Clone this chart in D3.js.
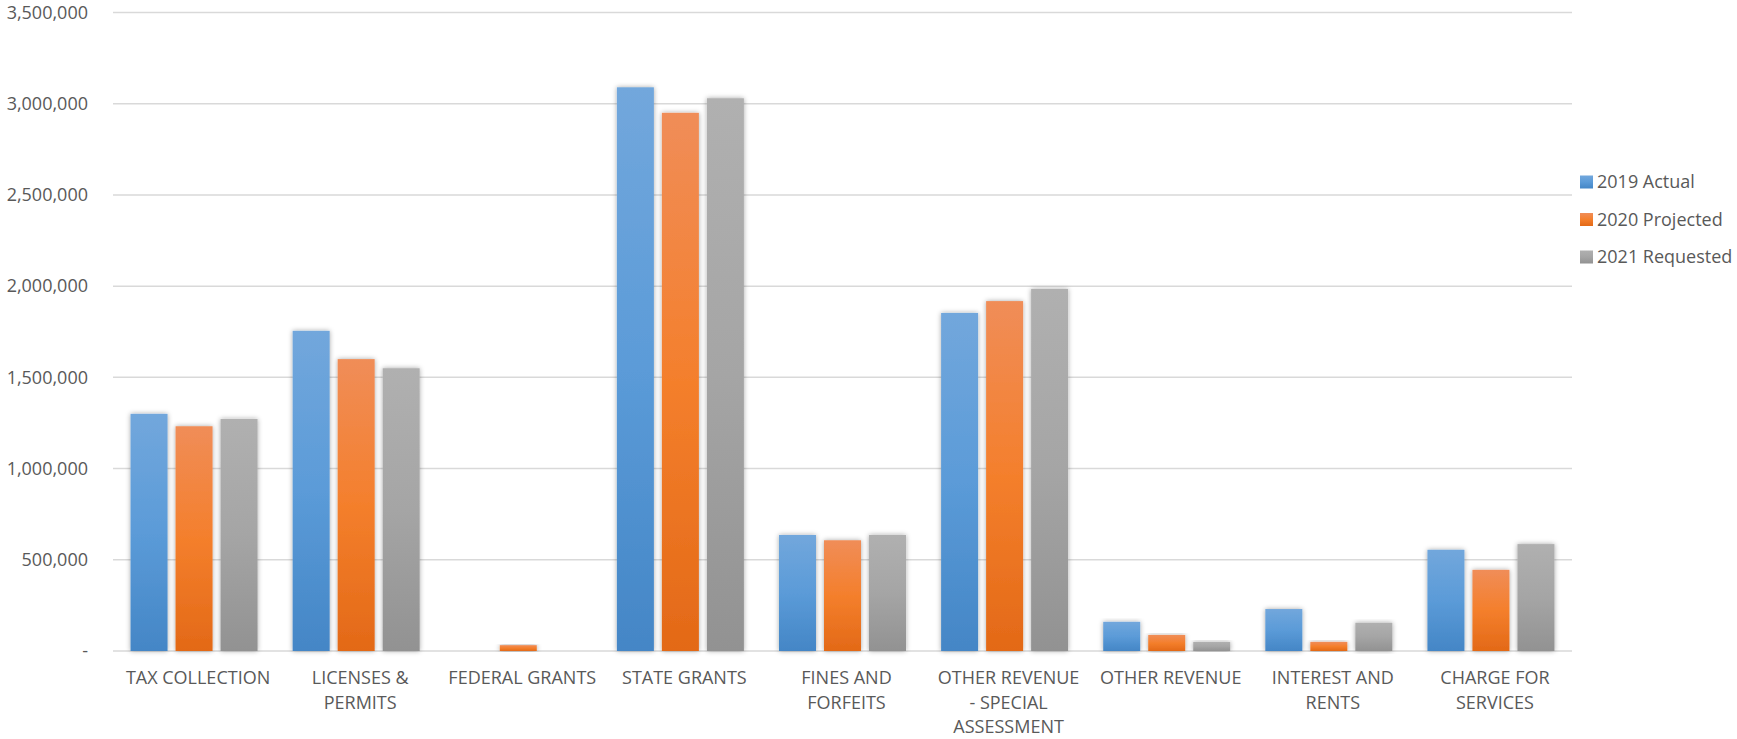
<!DOCTYPE html>
<meta charset="utf-8">
<style>
    body {
        margin: 0;
        background: #fff;
    }

    text {
        font-family: "Open Sans", sans-serif;
        fill: #595959;
    }

    .grid line {
        stroke: #d9d9d9;
        stroke-width: 1.5;
    }
</style>

<body>
    <script src="https://d3js.org/d3.v7.min.js"></script>
    <script>
        // chart data
        var categories = ["TAX COLLECTION", "LICENSES & PERMITS", "FEDERAL GRANTS", "STATE GRANTS",
            "FINES AND FORFEITS", "OTHER REVENUE - SPECIAL ASSESSMENT", "OTHER REVENUE",
            "INTEREST AND RENTS", "CHARGE FOR SERVICES"];
        var categoryLines = [
            ["TAX COLLECTION"],
            ["LICENSES &", "PERMITS"],
            ["FEDERAL GRANTS"],
            ["STATE GRANTS"],
            ["FINES AND", "FORFEITS"],
            ["OTHER REVENUE", "- SPECIAL", "ASSESSMENT"],
            ["OTHER REVENUE"],
            ["INTEREST AND", "RENTS"],
            ["CHARGE FOR", "SERVICES"]
        ];
        var seriesNames = ["2019 Actual", "2020 Projected", "2021 Requested"];
        var actual2019 = [1300000, 1755000, 0, 3090000, 636000, 1853000, 160000, 230000, 555000];
        var projected2020 = [1232000, 1600000, 32000, 2950000, 607000, 1918000, 88000, 50000, 445000];
        var requested2021 = [1272000, 1550000, 0, 3030000, 636000, 1985000, 50000, 155000, 586000];
        var yTicks = [0, 500000, 1000000, 1500000, 2000000, 2500000, 3000000, 3500000];

        var seriesValues = [actual2019, projected2020, requested2021];

        var width = 1737,
            height = 739;
        var plot = {
            left: 113,
            right: 1572,
            top: 12.5,
            bottom: 651
        };

        var x0 = d3.scaleBand()
            .domain(categories)
            .range([plot.left, plot.right])
            .padding(0);
        var x1 = d3.scaleBand()
            .domain(seriesNames)
            .range([0, x0.bandwidth()])
            .paddingInner(0.178)
            .paddingOuter(0.39);
        var y = d3.scaleLinear()
            .domain([0, 3500000])
            .range([plot.bottom, plot.top]);

        // gradient colours (top, middle, bottom)
        var gradStops = [
            ["#72a7dc", "#5b9bd8", "#4486c6"],
            ["#f08d58", "#f47f2c", "#e36917"],
            ["#b0b0b0", "#a5a5a5", "#929292"]
        ];
        var legendColor = ["#5b9bd5", "#ed7d31", "#a5a5a5"];

        var svg = d3.select("body").append("svg")
            .attr("width", width)
            .attr("height", height);

        var defs = svg.append("defs");
        gradStops.forEach(function(s, i) {
            var g = defs.append("linearGradient")
                .attr("id", "grad" + i)
                .attr("x1", 0).attr("y1", 0)
                .attr("x2", 0).attr("y2", 1);
            g.append("stop").attr("offset", "0%").attr("stop-color", s[0]);
            g.append("stop").attr("offset", "50%").attr("stop-color", s[1]);
            g.append("stop").attr("offset", "100%").attr("stop-color", s[2]);
        });
        var shadow = defs.append("filter")
            .attr("id", "shadow")
            .attr("x", "-30%").attr("y", "-10%")
            .attr("width", "160%").attr("height", "120%");
        shadow.append("feDropShadow")
            .attr("dx", 0)
            .attr("dy", 0)
            .attr("stdDeviation", 2.5)
            .attr("flood-color", "#000")
            .attr("flood-opacity", 0.35);

        // gridlines
        svg.append("g")
            .attr("class", "grid")
            .selectAll("line")
            .data(yTicks)
            .enter().append("line")
            .attr("x1", plot.left)
            .attr("x2", plot.right)
            .attr("y1", function(d) { return y(d); })
            .attr("y2", function(d) { return y(d); });

        // y labels
        var fmt = d3.format(",");
        svg.append("g")
            .selectAll("text")
            .data(yTicks)
            .enter().append("text")
            .attr("x", 88)
            .attr("y", function(d) { return y(d); })
            .attr("dy", "0.35em")
            .attr("text-anchor", "end")
            .style("font-size", "18px")
            .text(function(d) { return d === 0 ? "-" : fmt(d); });

        // bars
        var groups = svg.append("g")
            .selectAll("g")
            .data(categories)
            .enter().append("g")
            .attr("transform", function(d) { return "translate(" + x0(d) + ",0)"; });

        groups.selectAll("rect")
            .data(function(d, ci) {
                return seriesNames.map(function(s, si) {
                    return { series: s, si: si, value: seriesValues[si][ci] };
                });
            })
            .enter().append("rect")
            .filter(function(d) { return d.value > 0; })
            .attr("x", function(d) { return x1(d.series); })
            .attr("y", function(d) { return y(d.value); })
            .attr("width", x1.bandwidth())
            .attr("height", function(d) { return y(0) - y(d.value); })
            .style("fill", function(d) { return "url(#grad" + d.si + ")"; })
            .attr("filter", "url(#shadow)");

        // x labels
        var xl = svg.append("g")
            .selectAll("text")
            .data(categories)
            .enter().append("text")
            .attr("x", function(d) { return x0(d) + x0.bandwidth() / 2 + 4; })
            .attr("y", 684)
            .attr("text-anchor", "middle")
            .style("font-size", "18px");
        xl.each(function(d, i) {
            var t = d3.select(this);
            categoryLines[i].forEach(function(line, j) {
                t.append("tspan")
                    .attr("x", x0(d) + x0.bandwidth() / 2 + 4)
                    .attr("dy", j === 0 ? 0 : 24.5)
                    .text(line);
            });
        });

        // legend
        var legend = svg.append("g")
            .selectAll("g")
            .data(seriesNames)
            .enter().append("g")
            .attr("transform", function(d, i) {
                return "translate(1580," + (182 + i * 37.5) + ")";
            });
        legend.append("rect")
            .attr("y", -6.5)
            .attr("width", 13)
            .attr("height", 13)
            .style("fill", function(d, i) { return "url(#grad" + i + ")"; });
        legend.append("text")
            .attr("x", 17)
            .attr("dy", "0.35em")
            .style("font-size", "18px")
            .text(function(d) { return d; });
    </script>
</body>
